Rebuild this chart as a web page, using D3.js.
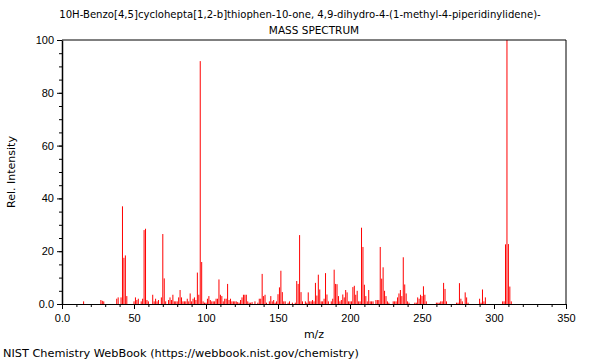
<!DOCTYPE html>
<html>
<head>
<meta charset="utf-8">
<script src="https://cdn.jsdelivr.net/npm/d3@7"></script>
<style>
  body { margin: 0; background: #fff; }
  svg { font-family: "DejaVu Sans", sans-serif; }
  .axis path, .axis line { stroke: #000; }
  .axis text { font-size: 11px; fill: #000; }
</style>
</head>
<body>
<script>
// peak list
const mzValues = [15, 27, 28, 29, 38, 39, 41, 42, 43, 44, 45,
  50, 51, 52, 53, 55, 56, 57, 58, 59, 60, 63, 64, 65, 66, 67, 69, 70, 71, 72, 74,
  75, 76, 77, 78, 79, 80, 81, 82, 83, 84, 85, 86, 87, 88, 89, 90, 91, 92, 93, 94,
  95, 96, 97, 98, 99, 100, 101, 102, 103, 104, 105, 106, 107, 108, 109, 110, 111,
  112, 113, 114, 115, 116, 117, 118, 119, 120, 121, 122, 123, 124, 125, 126, 127,
  128, 129, 130, 131, 132, 134, 136, 137, 138, 139, 140, 141, 142, 144, 145, 146,
  147, 148, 149, 150, 151, 152, 153, 154, 155, 157, 158, 160, 162, 163, 164, 165,
  166, 167, 169, 170, 171, 172, 173, 174, 175, 176, 177, 178, 179, 180, 181, 182,
  183, 184, 185, 187, 188, 189, 190, 191, 192, 193, 194, 195, 196, 197, 198, 199,
  200, 201, 202, 203, 204, 205, 206, 207, 208, 209, 210, 211, 212, 213, 214, 215,
  216, 218, 219, 220, 221, 222, 223, 224, 225, 226, 227, 230, 231, 232, 233, 234,
  235, 236, 237, 238, 239, 240, 241, 245, 246, 247, 248, 249, 250, 251, 252, 253,
  260, 261, 262, 263, 264, 265, 266, 267, 274, 275, 276, 277, 278, 280, 281, 282,
  290, 291, 292, 293, 294, 306, 307, 308, 309, 310, 311, 312];

const intensities = [1, 1.5, 1.2, 1, 2, 2.5, 2.5, 37, 17.5, 18.4, 3,
  1, 2.5, 1.5, 2, 1, 2, 28, 28.5, 1.5, 1, 3.5, 1, 2, 1, 1.5, 2.5, 26.5, 9.7, 1, 1.5,
  2.5, 1.5, 3.5, 1, 1, 1, 2.5, 5.3, 2.5, 1, 1, 1, 2, 1, 4, 1, 2, 2.5, 1.5, 11.9,
  3.5, 92, 15.9, 1, 0.5, 0.5, 2, 3, 1.5, 1, 1, 1, 2, 2, 9.3, 3.5, 3,
  1, 2, 2, 7.6, 1.5, 2, 1, 1, 1, 1, 0.7, 0.5, 1.5, 2.5, 3.5, 3.5,
  3.5, 1, 0.5, 0.5, 0.7, 1, 0.5, 2, 2, 11.4, 3, 3.5, 0.5, 1, 3, 1,
  1.5, 0.5, 1, 3.7, 6.3, 12.6, 4.5, 1, 1, 0.5, 1, 0.5, 0.5, 8.7, 7.6, 26.1,
  4.5, 1, 1, 0.5, 4.4, 1, 1, 1.5, 1, 8, 3.2, 11.1, 5.5, 1, 1, 2,
  11.7, 3.6, 1, 1, 2, 13, 7.6, 7.5, 3, 1, 1.5, 3.6, 2.5, 5.3, 4.4, 1,
  1, 1, 6.4, 6.9, 3.5, 5, 1, 1, 28.9, 21.6, 7.3, 3, 1, 5.3, 1, 1,
  1, 1.5, 1.5, 1.5, 21.6, 9.6, 13.9, 5, 3, 1, 0.5, 1, 1, 1, 2.5, 4,
  5.3, 3, 17.7, 7.4, 4, 1, 0.5, 0.5, 0.5, 2.5, 2, 3.5, 3, 6.7, 3.5, 1,
  0.5, 0.5, 0.5, 1, 1, 8, 5.7, 1, 0.5, 0.5, 7.9, 2, 1, 4.4, 2.5, 0.5,
  2, 0.5, 5.5, 1, 2.5, 1, 1, 22.6, 100, 22.7, 6.6, 1];

const xTicks = [0, 50, 100, 150, 200, 250, 300, 350];
const yTicks = [0, 20, 40, 60, 80, 100];

const titleLine1 = "10H-Benzo[4,5]cyclohepta[1,2-b]thiophen-10-one, 4,9-dihydro-4-(1-methyl-4-piperidinylidene)-";
const titleLine2 = "MASS SPECTRUM";

const width = 600;
const height = 360;
const margin = { top: 40, right: 34, bottom: 56, left: 62 };
const plotW = width - margin.left - margin.right;
const plotH = height - margin.top - margin.bottom;

const svg = d3.select("body")
  .append("svg")
  .attr("width", width)
  .attr("height", height);

const x = d3.scaleLinear().domain([0, 350]).range([margin.left, margin.left + plotW]);
const y = d3.scaleLinear().domain([0, 100]).range([margin.top + plotH, margin.top]);

const fmt = d => d === 0 ? "0.0" : String(d);

// peaks
svg.append("g")
  .selectAll("line")
  .data(mzValues.map((m, i) => ({ mz: m, inten: intensities[i] })))
  .enter()
  .append("line")
  .attr("x1", d => x(d.mz))
  .attr("x2", d => x(d.mz))
  .attr("y1", y(0))
  .attr("y2", d => y(d.inten))
  .attr("stroke", "#ff0000")
  .attr("stroke-width", 1);

// frame: top and right
svg.append("line")
  .attr("x1", x(0)).attr("x2", x(350))
  .attr("y1", y(100)).attr("y2", y(100))
  .attr("stroke", "#000");
svg.append("line")
  .attr("x1", x(350)).attr("x2", x(350))
  .attr("y1", y(100)).attr("y2", y(0))
  .attr("stroke", "#000");

// minor ticks
svg.append("g")
  .attr("class", "axis")
  .attr("transform", `translate(0,${y(0)})`)
  .call(d3.axisBottom(x).tickValues(d3.range(0, 351, 10)).tickSize(3).tickFormat(""))
  .call(g => g.select(".domain").remove());
svg.append("g")
  .attr("class", "axis")
  .attr("transform", `translate(${x(0)},0)`)
  .call(d3.axisLeft(y).tickValues(d3.range(0, 101, 5)).tickSize(3).tickFormat(""))
  .call(g => g.select(".domain").remove());

// major axes
svg.append("g")
  .attr("class", "axis")
  .attr("transform", `translate(0,${y(0)})`)
  .call(d3.axisBottom(x).tickValues(xTicks).tickSize(5).tickSizeOuter(0).tickFormat(fmt))
  .call(g => g.selectAll("text").attr("dy", "0.95em"));
svg.append("g")
  .attr("class", "axis")
  .attr("transform", `translate(${x(0)},0)`)
  .call(d3.axisLeft(y).tickValues(yTicks).tickSize(5).tickSizeOuter(0).tickFormat(fmt))
  .call(g => g.select(".domain").attr("stroke", "#888").attr("stroke-width", 1.5));

// titles
svg.append("text")
  .attr("x", 300).attr("y", 18)
  .attr("text-anchor", "middle")
  .attr("font-size", 10.1)
  .text(titleLine1);
svg.append("text")
  .attr("x", margin.left + plotW / 2).attr("y", 34)
  .attr("text-anchor", "middle")
  .attr("font-size", 10.5)
  .text(titleLine2);

svg.append("text")
  .attr("x", margin.left + plotW / 2).attr("y", 338)
  .attr("text-anchor", "middle")
  .attr("font-size", 11)
  .text("m/z");

svg.append("text")
  .attr("transform", `translate(15,${margin.top + plotH / 2}) rotate(-90)`)
  .attr("text-anchor", "middle")
  .attr("font-size", 11)
  .text("Rel. Intensity");

svg.append("text")
  .attr("x", 3).attr("y", 357)
  .attr("font-size", 11.3)
  .text("NIST Chemistry WebBook (https://webbook.nist.gov/chemistry)");
</script>
</body>
</html>
